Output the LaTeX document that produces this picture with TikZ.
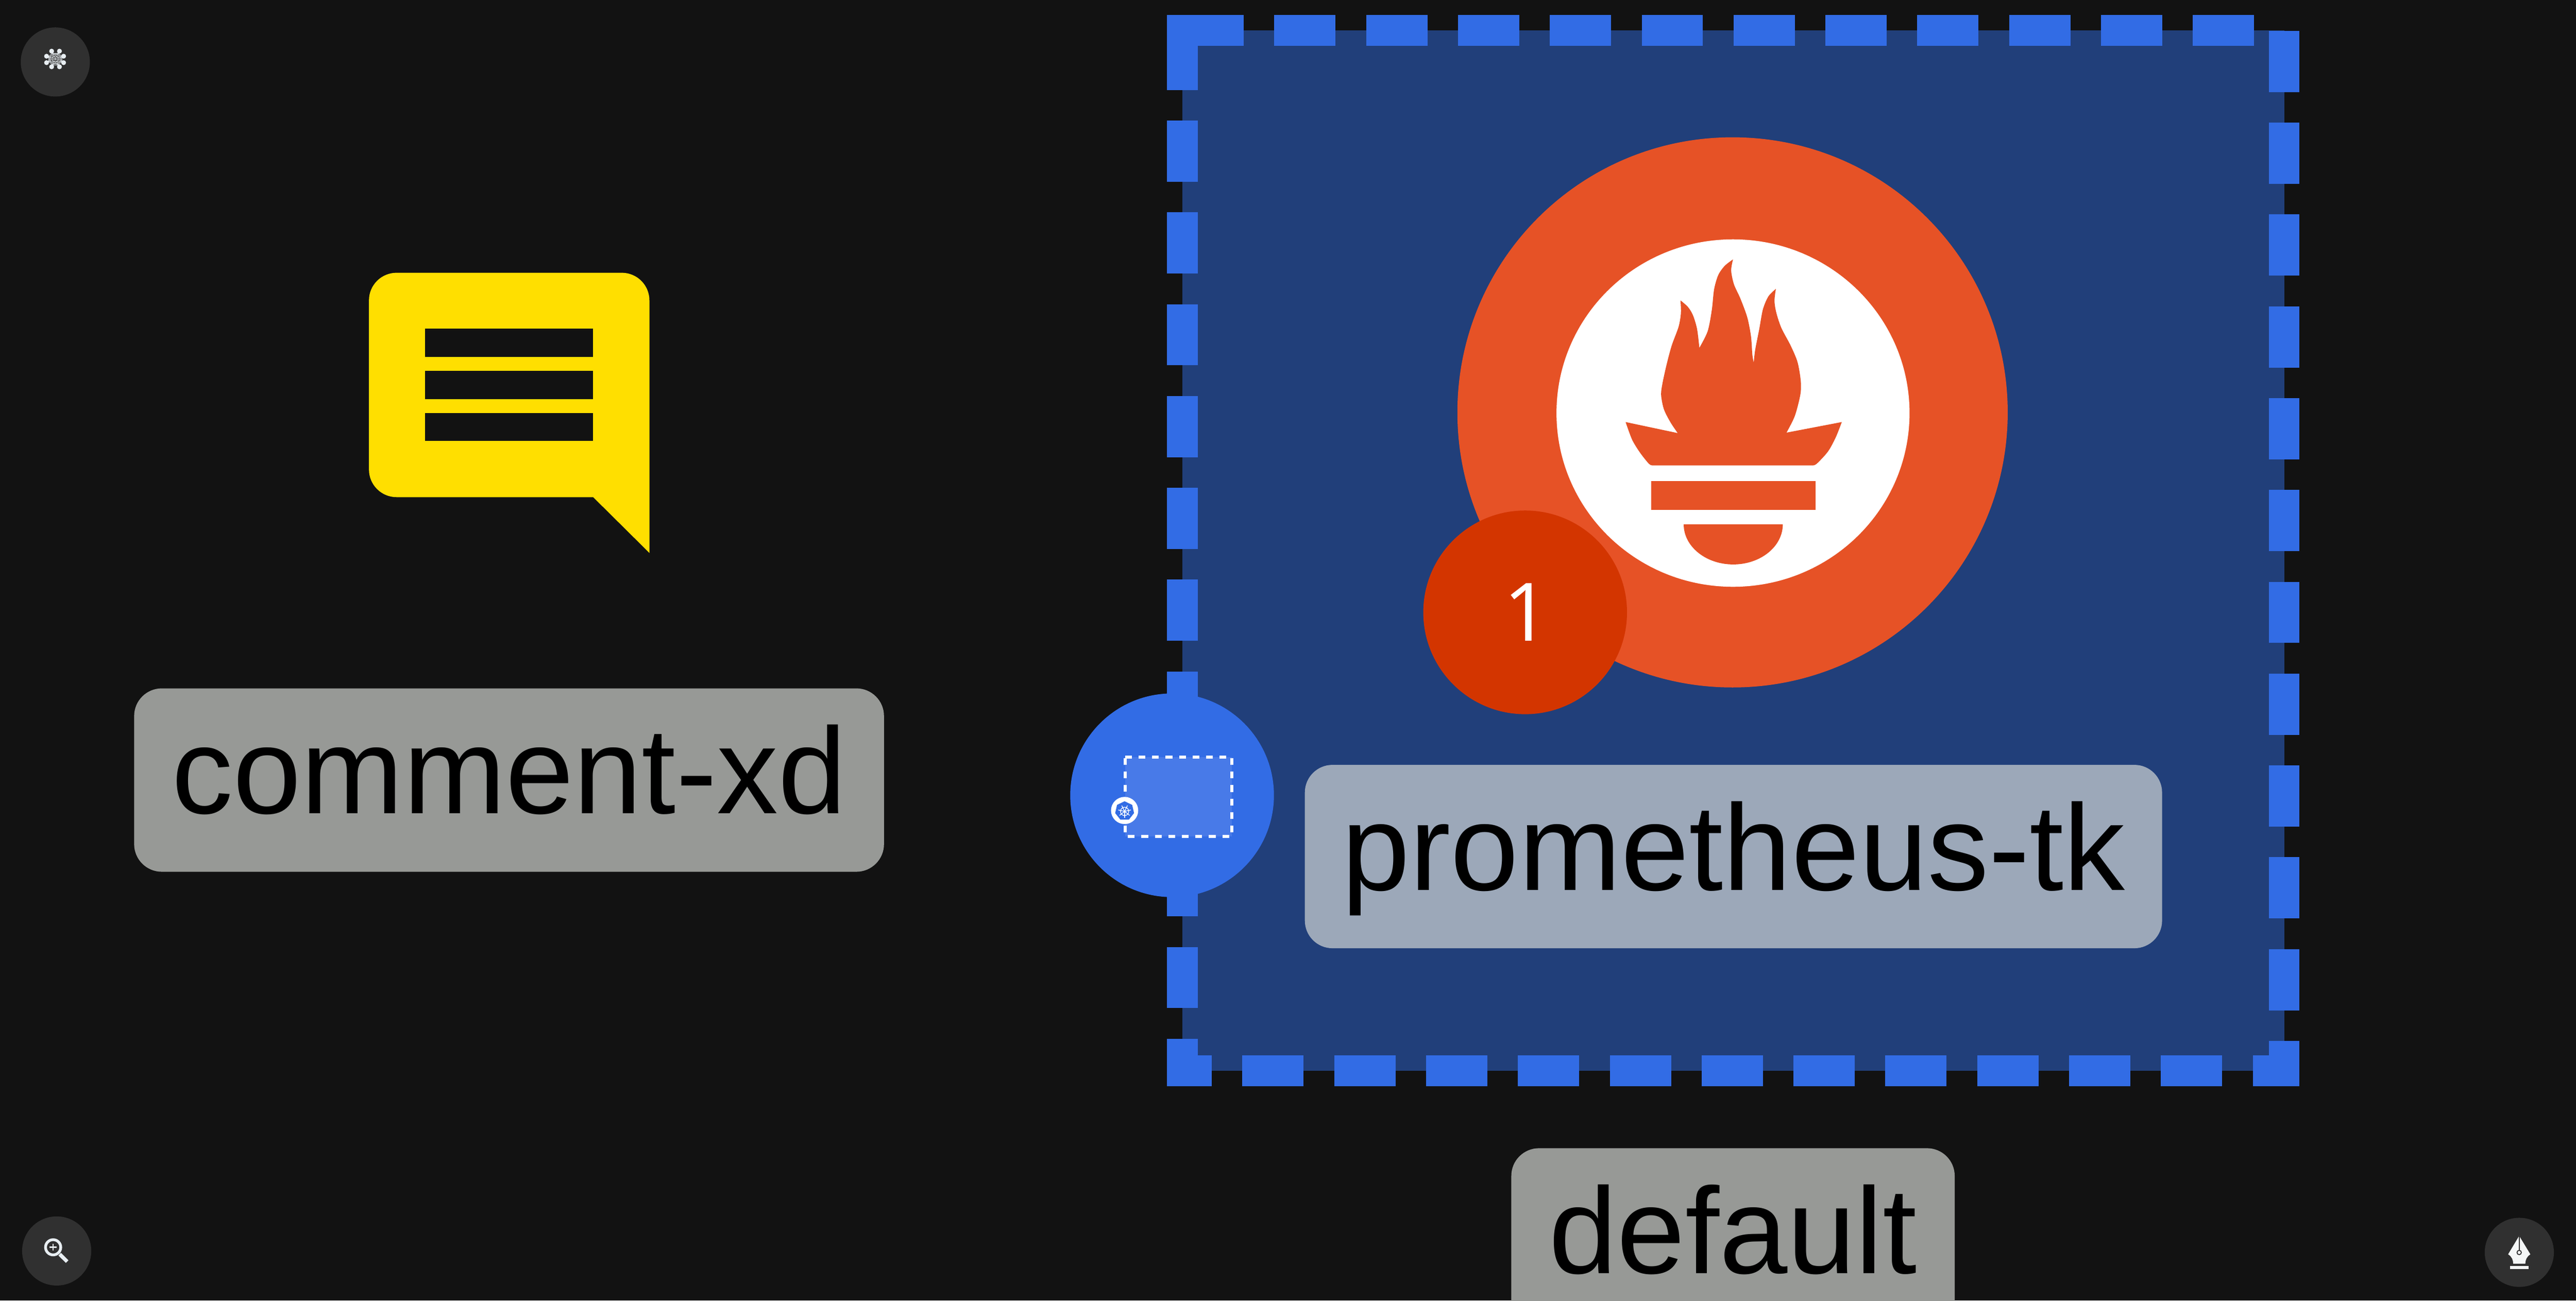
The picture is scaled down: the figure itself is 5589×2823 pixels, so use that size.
\documentclass[tikz,border=0pt]{standalone}
\usepackage{fontspec}
\setmainfont{Liberation Sans}
\newfontfamily\badgefont{Open Sans}
\usetikzlibrary{shapes.geometric}
\definecolor{canvasArea}{RGB}{18,18,18}
\definecolor{buttonArea}{RGB}{48,48,48}
\definecolor{buttonIcon}{RGB}{232,238,242}
\definecolor{nibIcon}{RGB}{245,247,247}
\definecolor{groupBlue}{RGB}{50,108,229}
\definecolor{groupArea}{RGB}{33,63,122}
\definecolor{spaceArea}{RGB}{72,122,232}
\definecolor{promOrange}{RGB}{230,82,38}
\definecolor{badgeRed}{RGB}{211,53,0}
\definecolor{commentYellow}{RGB}{255,223,0}
\definecolor{plainLabel}{RGB}{151,153,150}
\definecolor{groupLabel}{RGB}{156,168,185}
\tikzset{
    % Style for the grey name plates
    name label/.style={
        font=\fontsize{26.6}{30}\selectfont,
        text=black,
        rounded corners=6pt,
        inner xsep=0pt,
        inner ysep=0pt,
        minimum height=39.8pt,
        text height=20pt,
        text depth=5.4pt
    },
    round button/.style={buttonArea}
}

\begin{document}
\begin{tikzpicture}[x=0.1pt,y=-0.1pt]

% Set the canvas size
\path[use as bounding box] (0,0) rectangle (5589,2823);
\fill[canvasArea] (0,0) rectangle (5589,2823);

% Draw the dashed group box
\path[fill=groupArea,draw=groupBlue,line width=6.64pt,dash pattern=on 13.29pt off 6.64pt]
    (2565.5,66) -- (4956,66) -- (4956,2323.7) -- (2565.5,2323.7) -- cycle;
\fill[groupBlue] (2532.2,32.8) rectangle (2566,67);

% Draw the comment icon
\fill[commentYellow] (1000,592) [rounded corners=6pt] -- (1409,592) [sharp corners] -- (1409,1200)
    -- (1287,1079) [rounded corners=6pt] -- (800.5,1079) -- (800.5,592) -- cycle;
\fill[canvasArea] (922,713.5) rectangle (1287,775);
\fill[canvasArea] (922,805) rectangle (1287,866);
\fill[canvasArea] (922,896) rectangle (1287,957);

% Draw the torch logo
\fill[promOrange] (3759,895) circle (597);
\fill[white] (3760,896.5) ellipse (383 and 377);
\fill[promOrange] plot[smooth,tension=.5] coordinates {(3760,563) (3742,577) (3728,597) (3719,628) (3714,673) (3705,719) (3687,755)}
    -- plot[smooth,tension=.5] coordinates {(3687,755) (3682,714) (3673,684) (3662,666) (3646,652)}
    -- plot[smooth,tension=.5] coordinates {(3646,652) (3647,679) (3642,709) (3627,750) (3616,791) (3607,832) (3604,857) (3610,888) (3624,916) (3640,940)}
    -- (3527,916)
    -- plot[smooth,tension=.5] coordinates {(3527,916) (3541,954) (3558,982) (3578,1007) (3587,1010)}
    -- plot[smooth,tension=.5] coordinates {(3931,1010) (3941,1007) (3966,980) (3983,949) (3996,916)}
    -- (3876,939)
    -- plot[smooth,tension=.5] coordinates {(3876,939) (3894,903) (3906,857) (3907,827) (3900,786) (3885,750) (3865,712) (3854,679) (3850,653) (3853,627)}
    -- plot[smooth,tension=.5] coordinates {(3853,627) (3837,643) (3825,671) (3817,714) (3808,760) (3805,787)}
    -- plot[smooth,tension=.5] coordinates {(3805,787) (3802,770) (3799,730) (3791,689) (3776,648) (3762,617) (3756,587) (3760,563)}
    -- cycle;
\fill[promOrange] (3582,1044) rectangle (3939,1107);
\fill[promOrange] (3653,1138) arc[start angle=180,end angle=0,x radius=107.5,y radius=87] -- cycle;

% Draw the count badge
\fill[badgeRed] (3309,1329) circle (221);
\node[text=white,font=\badgefont\fontsize{17.5}{20}\selectfont,inner sep=0pt] (count) at (3312,1329) {1};

% Draw the namespace badge
\fill[groupBlue] (2543,1726) circle (221);
\fill[spaceArea] (2441,1643) rectangle (2673,1815);
\draw[white,line width=0.7pt,dash pattern=on 1.47pt off 1.46pt]
    (2441,1643) -- (2673,1643) -- (2673,1815) -- (2441,1815) -- cycle;
\fill[white] (2440,1759) circle (29.5);
\node[regular polygon,regular polygon sides=7,fill=groupBlue,minimum size=4.2pt,inner sep=0pt] (wheel) at (2440,1760) {};
\draw[white,line width=0.15pt] (2440,1761) circle (9);
\foreach \a in {90,141.4,...,450} {
    \draw[white,line width=0.15pt] (2440,1761) -- ++(\a:14);
}

% Draw the name plates
\node[name label,fill=plainLabel,minimum width=162.7pt] (commentLabel) at (1104.5,1693) {comment-xd};
\node[name label,fill=groupLabel,minimum width=186pt] (promLabel) at (3761,1859) {prometheus-tk};
\node[name label,fill=plainLabel,minimum width=96.2pt,anchor=north] (defaultLabel) at (3760,2490) {default};

% Draw the corner buttons
\fill[round button] (120,134.5) circle (75);
\fill[round button] (123,2715) circle (75);
\fill[round button] (5466,2718) circle (75);

% Top left: ring of dots with a web in the middle
\foreach \i/\p in {1/{114,115},2/{126,115},3/{135,123},4/{135,133},5/{126,141},6/{114,141},7/{105,133},8/{105,123}} {
    \coordinate (web\i) at (\p);
}
\foreach \i in {1,...,8} {
    \foreach \j in {1,...,8} {
        \draw[buttonIcon,opacity=.55,line width=0.08pt] (web\i) -- (web\j);
    }
}
\foreach \p in {{112,111},{129,111},{101,122},{138,122},{101,136},{138,136},{112,145},{129,145}} {
    \fill[buttonIcon] (\p) circle (5.3);
}

% Bottom left: magnifier
\draw[buttonIcon,line width=0.6pt] (115.3,2707) circle (16.5);
\draw[buttonIcon,line width=0.8pt] (129.5,2722) -- (145.7,2738);
\draw[buttonIcon,line width=0.3pt] (107.8,2707) -- (122.8,2707);
\draw[buttonIcon,line width=0.3pt] (115.3,2699.5) -- (115.3,2714.5);

% Bottom right: pen nib
\fill[nibIcon] (5465.7,2682.3) -- (5441.7,2722.3) .. controls (5450,2727) and (5452.7,2735) .. (5452.7,2742.7)
    -- (5479,2742.7) .. controls (5479,2735) and (5482,2727) .. (5490,2722.3) -- cycle;
\fill[nibIcon] (5446,2748) rectangle (5486,2754);
\draw[buttonArea,line width=0.2pt] (5465.7,2682.3) -- (5465.7,2713);
\draw[buttonArea,fill=nibIcon,line width=0.2pt] (5465.7,2718.3) circle (4.7);

\end{tikzpicture}
\end{document}
